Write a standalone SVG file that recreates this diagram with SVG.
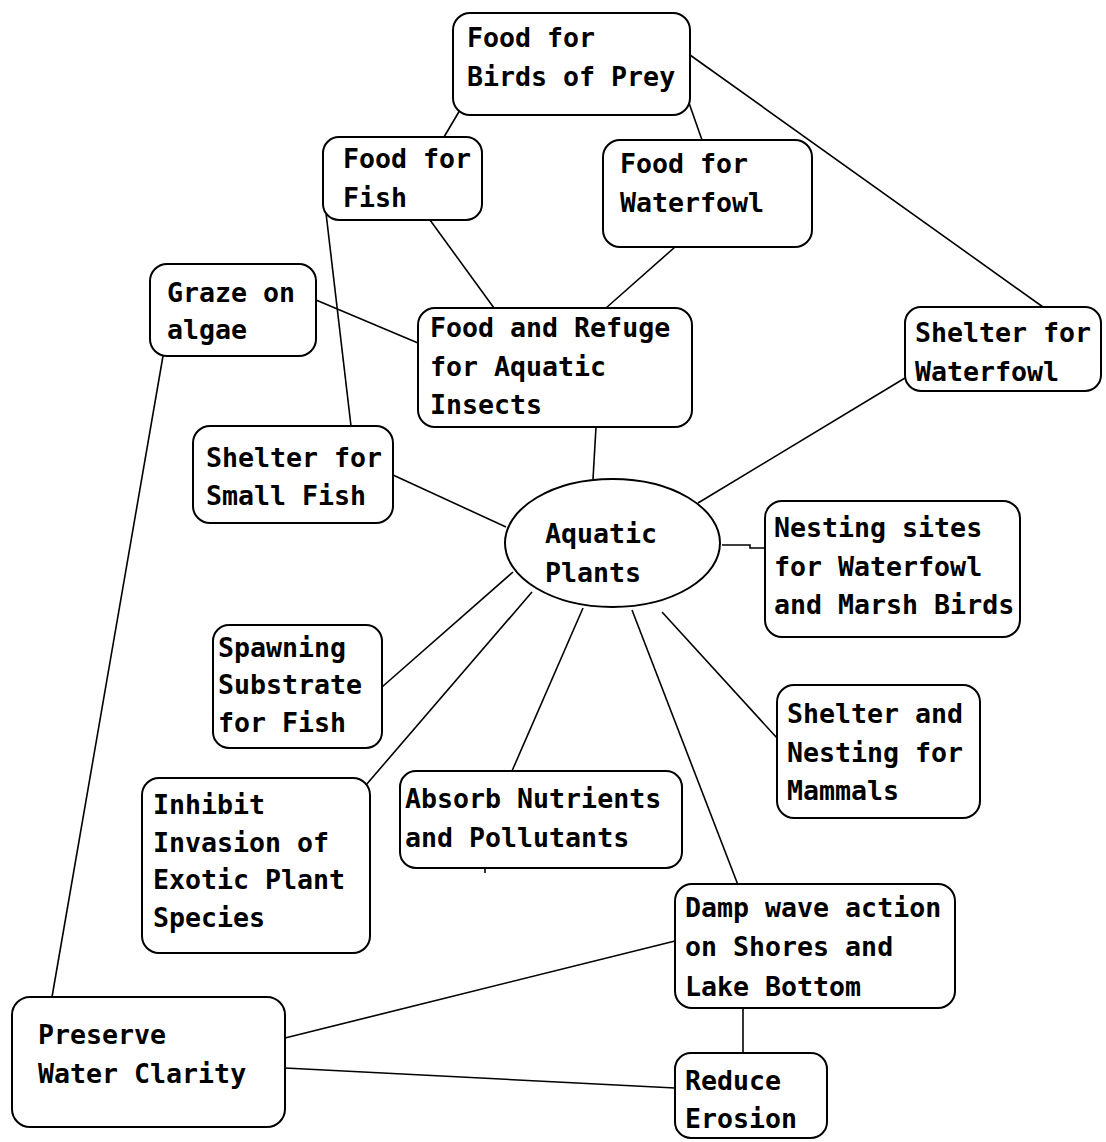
<svg xmlns="http://www.w3.org/2000/svg" width="1106" height="1142" viewBox="0 0 1106 1142">
<style>
.n{fill:#fff;stroke:#000;stroke-width:2}
.t{font-family:"DejaVu Sans Mono","Liberation Mono",monospace;font-size:26.6px;font-weight:bold;fill:#000}
.c line,.c polyline{stroke:#000;stroke-width:1.6;fill:none}
</style>
<rect width="1106" height="1142" fill="#fff"/>
<g class="c" id="connectors">
<line x1="460" y1="110" x2="444" y2="137"/>
<line x1="689" y1="103" x2="702" y2="140"/>
<line x1="690" y1="55" x2="1043" y2="307"/>
<line x1="430" y1="220" x2="494" y2="308"/>
<line x1="675" y1="247" x2="606" y2="308"/>
<line x1="326" y1="213" x2="351" y2="426"/>
<line x1="316" y1="300" x2="418" y2="343"/>
<line x1="596" y1="427" x2="593" y2="479"/>
<line x1="163" y1="356" x2="52" y2="997"/>
<line x1="393" y1="475" x2="506" y2="527"/>
<line x1="905" y1="378" x2="698" y2="503"/>
<polyline points="722,545 750,545 750,548 765,548"/>
<line x1="382" y1="687" x2="513" y2="572"/>
<line x1="366" y1="785" x2="532" y2="592"/>
<line x1="512" y1="771" x2="583" y2="608"/>
<line x1="485" y1="868" x2="485" y2="873"/>
<line x1="632" y1="610" x2="738" y2="885"/>
<line x1="662" y1="612" x2="777" y2="738"/>
<line x1="285" y1="1038" x2="675" y2="941"/>
<line x1="285" y1="1068" x2="675" y2="1088"/>
<line x1="743" y1="1008" x2="743" y2="1053"/>
</g>
<g id="birds"><rect class="n" x="453" y="13" width="237" height="102" rx="17"/><text class="t" x="467" y="47">Food for</text><text class="t" x="467" y="86">Birds of Prey</text></g>
<g id="fish"><rect class="n" x="323" y="137" width="159" height="83" rx="16"/><text class="t" x="343" y="168">Food for</text><text class="t" x="343" y="207">Fish</text></g>
<g id="waterfowl"><rect class="n" x="603" y="140" width="209" height="107" rx="17"/><text class="t" x="620" y="173">Food for</text><text class="t" x="620" y="212">Waterfowl</text></g>
<g id="graze"><rect class="n" x="150" y="264" width="166" height="92" rx="17"/><text class="t" x="167" y="302">Graze on</text><text class="t" x="167" y="339">algae</text></g>
<g id="insects"><rect class="n" x="418" y="308" width="274" height="119" rx="17"/><text class="t" x="430" y="337">Food and Refuge</text><text class="t" x="430" y="376">for Aquatic</text><text class="t" x="430" y="414">Insects</text></g>
<g id="shelterWaterfowl"><rect class="n" x="905" y="307" width="196" height="84" rx="16"/><text class="t" x="915" y="342">Shelter for</text><text class="t" x="915" y="381">Waterfowl</text></g>
<g id="shelterSmallFish"><rect class="n" x="193" y="426" width="200" height="97" rx="17"/><text class="t" x="206" y="467">Shelter for</text><text class="t" x="206" y="505">Small Fish</text></g>
<g id="aquaticPlants"><ellipse class="n" cx="612.5" cy="543" rx="107.5" ry="64"/><text class="t" x="545" y="543">Aquatic</text><text class="t" x="545" y="582">Plants</text></g>
<g id="nesting"><rect class="n" x="765" y="501" width="255" height="136" rx="17"/><text class="t" x="774" y="537">Nesting sites</text><text class="t" x="774" y="576">for Waterfowl</text><text class="t" x="774" y="614">and Marsh Birds</text></g>
<g id="spawning"><rect class="n" x="213" y="625" width="169" height="123" rx="16"/><text class="t" x="218" y="657">Spawning</text><text class="t" x="218" y="694">Substrate</text><text class="t" x="218" y="732">for Fish</text></g>
<g id="mammals"><rect class="n" x="777" y="685" width="203" height="133" rx="17"/><text class="t" x="787" y="723">Shelter and</text><text class="t" x="787" y="762">Nesting for</text><text class="t" x="787" y="800">Mammals</text></g>
<g id="inhibit"><rect class="n" x="142" y="778" width="228" height="175" rx="17"/><text class="t" x="153" y="814">Inhibit</text><text class="t" x="153" y="852">Invasion of</text><text class="t" x="153" y="889">Exotic Plant</text><text class="t" x="153" y="927">Species</text></g>
<g id="absorb"><rect class="n" x="400" y="771" width="282" height="97" rx="16"/><text class="t" x="405" y="808">Absorb Nutrients</text><text class="t" x="405" y="847">and Pollutants</text></g>
<g id="damp"><rect class="n" x="675" y="884" width="280" height="124" rx="17"/><text class="t" x="685" y="917">Damp wave action</text><text class="t" x="685" y="956">on Shores and</text><text class="t" x="685" y="996">Lake Bottom</text></g>
<g id="preserve"><rect class="n" x="12" y="997" width="273" height="130" rx="18"/><text class="t" x="38" y="1044">Preserve</text><text class="t" x="38" y="1083">Water Clarity</text></g>
<g id="erosion"><rect class="n" x="675" y="1053" width="152" height="85" rx="16"/><text class="t" x="685" y="1090">Reduce</text><text class="t" x="685" y="1128">Erosion</text></g>
</svg>
